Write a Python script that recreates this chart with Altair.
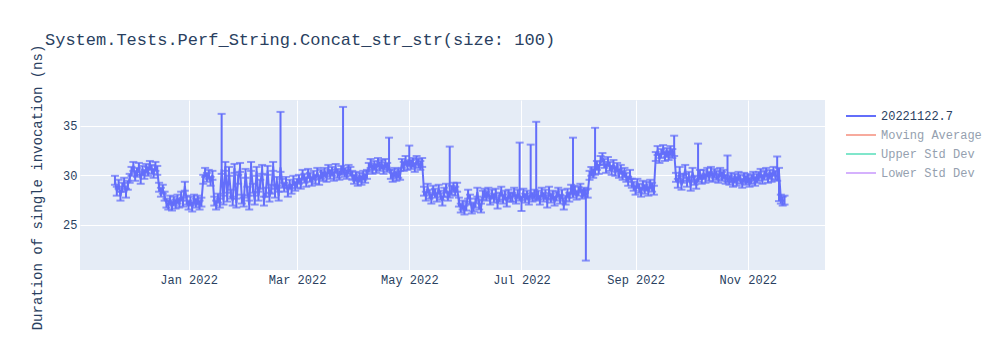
import altair as alt
import pandas as pd

TITLE = "System.Tests.Perf_String.Concat_str_str(size: 100)"
Y_TITLE = "Duration of single invocation (ns)"
series_names = ["20221122.7", "Moving Average", "Upper Std Dev", "Lower Std Dev"]
# first series shown, the other three are hidden (drawn faded in the legend)
series_colors = ["#636efa", "#F7AA9D", "#80E6CB", "#D5B1FD"]

start_date = "2021-11-22"
step = "1D"

values = [
    29.5, 28.4, 29.1, 27.9, 28.8, 29.3, 28.2, 29.0,
    29.7, 30.4, 30.9, 29.9, 30.3, 30.8, 29.6, 30.5, 30.1, 30.7, 30.4, 31.0, 30.6, 30.2, 30.9, 30.5,
    28.8, 28.3, 28.6, 27.9,
    27.2, 27.0, 27.5, 26.9, 27.4, 27.1,
    27.6, 27.2, 27.9, 27.3, 28.9, 27.5, 27.0, 27.4, 26.8, 27.6, 27.2, 27.5, 27.0, 27.3,
    29.6, 30.3, 29.8, 30.1, 29.4, 30.0,
    27.4, 27.0, 27.7, 27.2,
    30.6, 27.5, 30.9, 27.8, 30.4, 28.1, 27.4, 30.7, 27.2, 29.6,
    30.8, 27.6, 27.3, 30.2, 28.4, 27.0, 30.9, 28.7, 27.5, 30.4,
    27.9, 29.1, 30.6, 27.4, 28.3, 30.5, 27.8, 28.6, 30.9, 28.2,
    29.4, 27.9, 30.8, 29.2,
    28.8, 29.4, 28.3, 29.1, 28.6, 29.5, 28.9, 29.2,
    29.6, 29.1, 30.1, 29.7, 29.3, 30.2, 29.8, 29.4, 30.0, 29.6, 30.3, 29.5, 30.1, 29.9,
    30.3, 29.8, 30.6, 30.1, 30.4, 29.9, 30.7, 30.2, 30.0, 30.5, 30.6, 30.3, 30.1, 30.6, 30.4, 30.0,
    29.6, 29.9, 29.4, 29.8, 29.5, 30.0, 29.7, 30.1,
    30.8, 31.2, 30.6, 31.0, 30.7, 31.3, 30.9, 31.1, 30.6, 31.2, 30.8, 31.0,
    30.1, 29.8, 30.3, 29.9, 30.2, 30.0,
    31.2, 30.9, 31.5, 31.0, 31.4, 31.1, 31.3, 30.8, 31.5, 31.2, 31.0, 31.3,
    28.4, 27.9, 28.7, 28.1, 27.6, 28.5, 28.2, 27.8, 28.6, 28.0, 27.4, 28.3, 28.7, 27.9, 28.2, 28.5, 28.8, 28.4,
    28.8, 27.3, 26.7, 27.0, 26.5, 26.9, 28.1, 27.6, 26.6, 26.8, 27.2, 28.3, 27.0, 26.7, 28.0, 28.2,
    27.9, 28.3, 27.5, 28.1, 27.7, 28.2, 27.1, 27.8, 28.4, 27.6, 28.0, 27.3, 28.1, 27.8,
    27.8, 28.3, 27.6, 28.1, 27.9, 27.4, 28.2, 27.7, 28.0, 27.5, 28.2, 27.8, 28.1, 27.9,
    28.0, 27.5, 28.3, 27.8, 28.1, 27.2, 28.4, 27.7, 28.0, 27.4, 27.9, 28.3, 27.6, 28.1, 27.0, 27.5, 28.2, 27.8,
    28.6, 28.2, 28.5, 28.0, 28.4, 28.7, 28.1, 28.3, 28.1, 28.2,
    30.0, 30.4, 30.2, 30.5,
    31.0, 30.6, 31.5, 31.8, 31.2, 30.7, 31.4, 30.9, 30.5, 31.1, 30.4, 30.8, 30.2, 30.6, 30.0, 30.3,
    29.8, 29.4, 30.1, 29.2,
    28.9, 28.5, 29.2, 28.7, 28.3, 29.0, 28.6, 28.9, 28.4, 29.1, 28.8, 28.5,
    31.9, 32.5, 31.7, 32.2, 32.6, 31.9, 32.3, 32.0, 32.5, 32.2,
    32.4, 29.8, 29.2, 30.4, 29.0, 29.7, 30.6, 29.3, 29.9, 28.9, 30.3, 29.5, 29.1, 29.8, 30.1, 29.6,
    30.1, 29.7, 30.3, 29.9, 30.4, 29.8, 30.2, 30.0, 29.7, 30.3, 29.9, 30.1, 29.6, 29.8,
    29.5, 29.8, 29.3, 29.7, 29.4, 29.9, 29.6, 29.2, 29.8, 29.5, 29.7, 29.3, 29.6, 29.9, 29.4, 29.7,
    29.9, 30.2, 29.6, 30.0, 30.3, 29.7, 30.1, 29.8, 30.4, 30.0, 29.9, 30.3,
    27.6, 27.4, 27.5,
]

# typical half-width of the error bars
err_default = 0.45
# error bars that reach far up (day index, top value)
spike_idx = [58, 90, 124, 149, 160, 182, 220, 226, 229, 249, 261, 304, 317, 333, 360]
spike_top = [36.2, 36.4, 36.9, 33.8, 33.0, 32.9, 33.3, 33.1, 35.4, 33.8, 34.8, 34.0, 33.2, 32.0, 31.9]
# error bars that reach far down (day index, bottom value)
dip_idx = [221, 256, 361]
dip_bottom = [26.4, 21.4, 27.4]

dates = pd.date_range(start_date, periods=len(values), freq=step)
hi = [v + err_default for v in values]
lo = [v - err_default for v in values]
for i, t in zip(spike_idx, spike_top):
    hi[i] = t
for i, b in zip(dip_idx, dip_bottom):
    lo[i] = b

df = pd.DataFrame({
    "date": dates.strftime("%Y-%m-%dT%H:%M:%S"),
    "value": values,
    "lo": lo,
    "hi": hi,
    "series": series_names[0],
})

FONT = "Liberation Mono"
TXT = "#2a3f5f"
BLUE = series_colors[0]

x_enc = alt.X(
    "date:T",
    scale=alt.Scale(domain=[alt.DateTime(year=2021, month=11, date=3),
                            alt.DateTime(year=2022, month=12, date=13)], nice=False),
    axis=alt.Axis(
        title=None,
        values=[alt.DateTime(year=2022, month=m, date=1) for m in (1, 3, 5, 7, 9, 11)],
        format="%b %Y", labelAngle=0, labelPadding=4,
    ),
)
y_scale = alt.Scale(domain=[20.45, 37.6], nice=False, zero=False)
y_enc = alt.Y(
    "value:Q", scale=y_scale,
    axis=alt.Axis(
        title=Y_TITLE, values=[25, 30, 35], labelPadding=3,
        titleFont=FONT, titleFontSize=14, titleFontWeight="normal", titleColor=TXT,
        titleX=-43, titleY=87, titleAngle=-90, titleAlign="center", titleBaseline="middle",
    ),
)

base = alt.Chart(df)

line = base.mark_line(strokeWidth=2).encode(
    x=x_enc,
    y=y_enc,
    color=alt.Color(
        "series:N",
        sort=series_names,
        scale=alt.Scale(domain=series_names, range=series_colors),
        legend=alt.Legend(
            title=None, orient="none", legendX=775, legendY=10,
            symbolType="M-3,0H3", symbolSize=100, symbolStrokeWidth=2,
            labelOffset=14, rowPadding=7, padding=0,
            labelFont=FONT, labelFontSize=12,
            labelColor=alt.ExprRef("datum.value === '20221122.7' ? '#2a3f5f' : '#959FAF'"),
        ),
    ),
)

bars = base.mark_rule(color=BLUE, strokeWidth=2).encode(
    x="date:T", y=alt.Y("lo:Q", scale=y_scale), y2="hi:Q"
)
cap_top = base.mark_tick(color=BLUE, orient="horizontal", size=8, thickness=2).encode(
    x="date:T", y=alt.Y("hi:Q", scale=y_scale)
)
cap_bot = base.mark_tick(color=BLUE, orient="horizontal", size=8, thickness=2).encode(
    x="date:T", y=alt.Y("lo:Q", scale=y_scale)
)

chart = alt.layer(bars, cap_top, cap_bot, line).properties(
    width=745,
    height=170,
    title=alt.TitleParams(
        TITLE, anchor="start", font=FONT, fontSize=17, fontWeight="normal", color=TXT,
        dx=15, offset=-18, baseline="alphabetic",
    ),
    autosize=alt.AutoSizeParams(type="none"),
    padding={"left": 80, "top": 100, "right": 175, "bottom": 80},
    background="white",
).configure_view(
    fill="#E5ECF6", stroke=None
).configure_axis(
    domain=False, ticks=False, tickSize=0, grid=True, gridColor="white", gridWidth=1,
    labelFont=FONT, labelFontSize=12, labelColor=TXT,
)

chart.save("out.html", embed_options={"renderer": "svg", "actions": False})
